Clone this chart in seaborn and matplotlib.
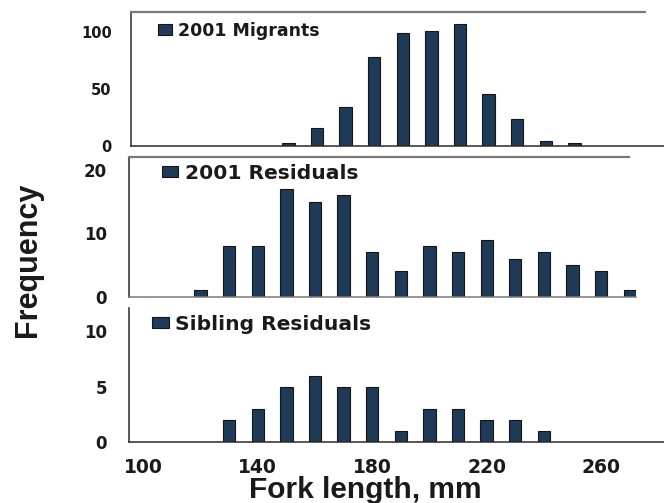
import numpy as np
import seaborn as sns
import matplotlib.pyplot as plt

sns.set_style("white")
plt.rcParams['font.family'] = ['DejaVu Sans']
plt.rcParams['font.weight'] = 'bold'

# fork length classes (mm) and counts per panel
mig_len = [150, 160, 170, 180, 190, 200, 210, 220, 230, 240, 250]
mig_n = [2, 16, 34, 78, 99, 101, 107, 46, 24, 4, 2]

res_len = [120, 130, 140, 150, 160, 170, 180, 190, 200, 210, 220, 230, 240, 250, 260, 270]
res_n = [1, 8, 8, 17, 15, 16, 7, 4, 8, 7, 9, 6, 7, 5, 4, 1]

sib_len = [130, 140, 150, 160, 170, 180, 190, 200, 210, 220, 230, 240]
sib_n = [2, 3, 5, 6, 5, 5, 1, 3, 3, 2, 2, 1]

x_ticks = [100, 140, 180, 220, 260]
x_labels = ["100", "140", "180", "220", "260"]

bar_col = "#1f3a56"
dark = "#2a2a2a"
grey = "#7a7a7a"

fig = plt.figure(figsize=(6.64, 5.03), dpi=100)
ax1 = fig.add_axes([0.1973, 0.7103, 0.8027, 0.2664])
ax2 = fig.add_axes([0.1943, 0.4101, 0.7636, 0.2783])
ax3 = fig.add_axes([0.1943, 0.1219, 0.8057, 0.2652])


def panel(ax, x, y, label, ymax, yticks, top_end, fs, ysize, ypad, anchor, hl, hh, htp):
    sns.barplot(x=x, y=y, ax=ax, native_scale=True, width=0.43, color=bar_col,
                saturation=1, edgecolor="#151515", linewidth=0.8, errorbar=None,
                label=label)
    ax.set_ylim(0, ymax)
    ax.set_yticks(yticks)
    ax.set_yticklabels([str(v) for v in yticks])
    ax.tick_params(axis='y', direction='out', length=7, width=1, color=dark,
                   labelsize=ysize, pad=ypad, labelcolor="#1a1a1a")
    ax.set_xlabel("")
    ax.set_ylabel("")
    ax.spines['right'].set_visible(False)
    ax.spines['left'].set_color(dark)
    ax.spines['left'].set_linewidth(1.1)
    ax.spines['bottom'].set_color(dark)
    ax.spines['bottom'].set_linewidth(1.1)
    if top_end is None:
        ax.spines['top'].set_visible(False)
    else:
        ax.spines['top'].set_color(grey)
        ax.spines['top'].set_linewidth(1.6)
        ax.spines['top'].set_bounds(95, top_end)
    ax.legend(loc='center left', bbox_to_anchor=anchor, frameon=False,
              borderpad=0, borderaxespad=0, handlelength=hl, handleheight=hh,
              handletextpad=htp, prop={'weight': 'bold', 'size': fs})
    for t in ax.get_legend().get_texts():
        t.set_color("#1a1a1a")


panel(ax1, mig_len, mig_n, "2001 Migrants", 118.2, [0, 50, 100], 274.7, 12.5, 10.5, 7,
      (0.0507, 0.856), 0.8, 0.58, 0.35)
panel(ax2, res_len, res_n, "2001 Residuals", 22.1, [0, 10, 20], 269.8, 14.6, 12, 9,
      (0.0645, 0.882), 0.8, 0.5, 0.36)
panel(ax3, sib_len, sib_n, "Sibling Residuals", 12.1, [0, 5, 10], None, 14.6, 12, 9,
      (0.043, 0.8786), 0.83, 0.46, 0.3)

ax1.set_xlim(95, 281.3)
ax2.set_xlim(95, 272.2)
ax3.set_xlim(95, 282.0)
ax2.spines['bottom'].set_color(grey)

for ax in (ax1, ax2):
    ax.set_xticks([])

ax3.set_xticks(np.arange(95, 276, 10))
ax3.set_xticklabels([])
ax3.tick_params(axis='x', which='major', direction='out', length=6, width=1, color=dark)
ax3.set_xticks(x_ticks, minor=True)
ax3.set_xticklabels(x_labels, minor=True)
ax3.tick_params(axis='x', which='minor', length=0, pad=12, labelsize=13.5, labelcolor="#1a1a1a")

fig.text(0.5497, 0.009, "Fork length, mm", ha='center', va='baseline',
         family='Liberation Sans', weight='bold', size=21.5, color="#1a1a1a")
fig.text(0.0429, 0.483, "Frequency", ha='center', va='center', rotation=90,
         family='Liberation Sans', weight='bold', size=22, color="#1a1a1a")

fig.savefig("out.png", dpi=100)
